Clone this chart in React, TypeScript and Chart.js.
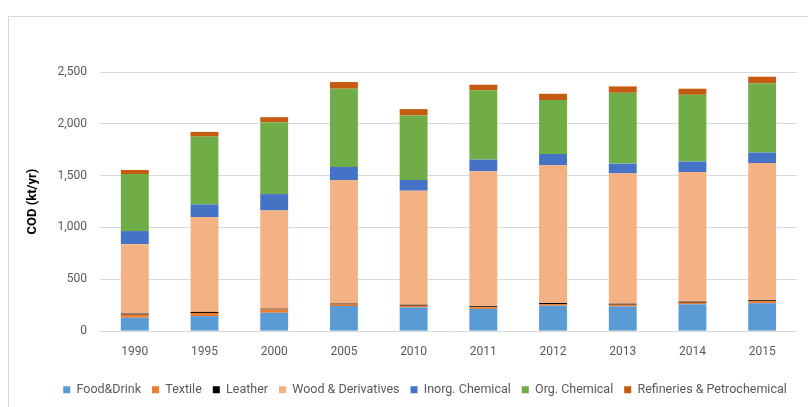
import React, { useEffect, useRef } from "react";
import { Chart, registerables } from "chart.js";

Chart.register(...registerables);

const years = ["1990", "1995", "2000", "2005", "2010", "2011", "2012", "2013", "2014", "2015"];
const foodDrink = [129, 145, 177, 242, 229, 213, 245, 238, 258, 270];
const textile = [30, 30, 32, 15, 16, 17, 16, 17, 16, 20];
const leather = [10, 10, 7, 8, 9, 10, 10, 9, 10, 8];
const wood = [670, 915, 948, 1190, 1101, 1302, 1329, 1258, 1251, 1324];
const inorgChem = [126, 122, 158, 129, 103, 113, 109, 94, 101, 101];
const orgChem = [550, 655, 694, 755, 623, 668, 520, 684, 644, 668];
const refineries = [40, 45, 48, 64, 61, 54, 61, 61, 59, 64];

const seriesNames = [
  "Food&Drink",
  "Textile",
  "Leather",
  "Wood & Derivatives",
  "Inorg. Chemical",
  "Org. Chemical",
  "Refineries & Petrochemical",
];
const seriesData = [foodDrink, textile, leather, wood, inorgChem, orgChem, refineries];
const seriesColors = ["#5B9BD5", "#ED7D31", "#000000", "#F4B183", "#4472C4", "#70AD47", "#C55A11"];

const FONT = "Roboto";

const legendShift = {
  id: "legendShift",
  afterLayout(chart: any) {
    const lg = chart.legend;
    if (lg) {
      lg.left += 14;
      lg.right += 14;
    }
  },
};

export default function App() {
  const ref = useRef<HTMLCanvasElement | null>(null);

  useEffect(() => {
    if (!ref.current) return;
    const chart = new Chart(ref.current, {
      type: "bar",
      data: {
        labels: years,
        datasets: seriesNames.map((name, i) => ({
          label: name,
          data: seriesData[i],
          backgroundColor: seriesColors[i],
          borderWidth: 0,
          barPercentage: 0.4,
          categoryPercentage: 1,
        })),
      },
      plugins: [legendShift],
      options: {
        responsive: true,
        maintainAspectRatio: false,
        animation: false,
        layout: { padding: { top: 55, right: 44, left: 16, bottom: 1 } },
        plugins: {
          tooltip: { enabled: false },
          legend: {
            position: "bottom",
            labels: {
              boxWidth: 7,
              boxHeight: 7,
              padding: 11,
              color: "#595959",
              font: { family: FONT, size: 12.5 },
            },
          },
        },
        scales: {
          x: {
            stacked: true,
            grid: { display: false },
            border: { display: false },
            ticks: { color: "#595959", font: { family: FONT, size: 12 }, padding: 6 },
            afterFit: (scale: any) => {
              scale.height += 7;
            },
          },
          y: {
            stacked: true,
            min: 0,
            max: 2500,
            ticks: {
              stepSize: 500,
              color: "#595959",
              font: { family: FONT, size: 12 },
              padding: 13,
              callback: (v: any) => Number(v).toLocaleString("en-US"),
            },
            grid: { color: "#d9d9d9", drawTicks: false },
            border: { display: false },
            title: {
              display: true,
              text: "COD (kt/yr)",
              color: "#000000",
              font: { family: FONT, size: 13, weight: "bold" },
              padding: { top: 0, bottom: 4 },
            },
          },
        },
      },
    });
    return () => chart.destroy();
  }, []);

  return (
    <div style={{ position: "fixed", left: 0, top: 0, width: 808, height: 407, overflow: "hidden", background: "#fff" }}>
      <div
        style={{
          position: "absolute",
          left: 8,
          top: 16,
          width: 832,
          height: 420,
          border: "1px solid #d9d9d9",
        }}
      >
        <div style={{ position: "relative", width: 832, height: 390 }}>
          <canvas ref={ref} />
        </div>
      </div>
    </div>
  );
}
